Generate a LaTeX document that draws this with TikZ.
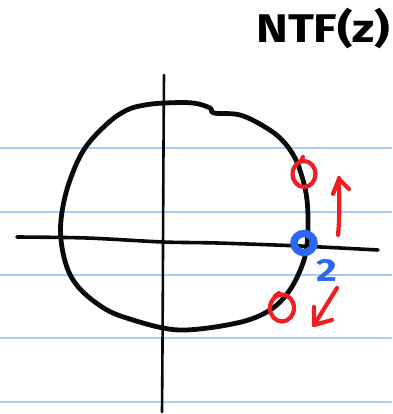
\documentclass[tikz,border=0pt]{standalone}
\usepackage{fontspec}
\setmainfont{Fira Sans}
\definecolor{paper}{RGB}{165,205,250}
\definecolor{ink}{RGB}{10,10,10}
\definecolor{pen}{RGB}{238,30,35}
\definecolor{bpen}{RGB}{45,105,240}
\tikzset{
  ruled/.style={paper, line width=1.6pt},
  axis/.style={ink, line width=3pt, line cap=round, line join=round},
  curve/.style={ink, line width=4.8pt, line cap=round, line join=round},
  redmark/.style={pen, line width=4.2pt, line cap=round, line join=round},
  label/.style={inner sep=0pt, font=\bfseries},
}
\begin{document}
\begin{tikzpicture}[x=1pt,y=-1pt]
\useasboundingbox (0,0) rectangle (392,414);
% ruled paper lines
\foreach \yy in {148,212,275,338,402} {\draw[ruled] (0,\yy) -- (392,\yy);}
% title
\node[label, anchor=base west, font=\bfseries\fontsize{40}{44}\selectfont] (title) at (256,43) {\scalebox{1.2}[1]{NTF(z)}};
% vertical axis
\draw[axis, line width=2.6pt] (164,75) .. controls (163,200) and (163,300) .. (162,412);
% horizontal axis
\draw[axis, line width=3.6pt] plot[smooth] coordinates {(17,237) (87,238) (163,242) (217,243) (300,246) (378,250)};
% unit circle (hand drawn)
\draw[curve] plot[smooth cycle, tension=0.6] coordinates {
 (165,103) (193,103) (210,108) (214,113) (240,115) (265,127) (282,140) (295,158) (303,180)
 (307,200) (308,222) (307,245) (303,263) (293,285) (280,302) (265,313) (245,321)
 (215,327) (185,330) (163,328) (133,320) (107,310) (82,291) (68,270) (61,240)
 (62,212) (70,180) (85,148) (108,123) (127,110) (145,105)};
% red poles
\draw[redmark] (304,174) ellipse[x radius=11.5, y radius=13];
\draw[redmark] (301,161) -- (303,157);
\draw[redmark] (282,308) ellipse[x radius=12, y radius=13.5];
\draw[redmark] (275,296) -- (279,293);
% red arrows
\draw[redmark] (338,235) .. controls (340,215) and (339,195) .. (339,178);
\draw[redmark] (333,194) -- (339,179) -- (349,189);
\draw[redmark] (337,288) -- (314,325);
\draw[redmark] (314,307) -- (314,325) -- (332,320);
% blue zero
\draw[bpen, line width=7.5pt] (304,243) ellipse[x radius=10, y radius=9.5];
\node[label, bpen, font=\bfseries\fontsize{32}{34}\selectfont] (sub) at (327,270) {\scalebox{1.25}[1]{2}};
\end{tikzpicture}
\end{document}
